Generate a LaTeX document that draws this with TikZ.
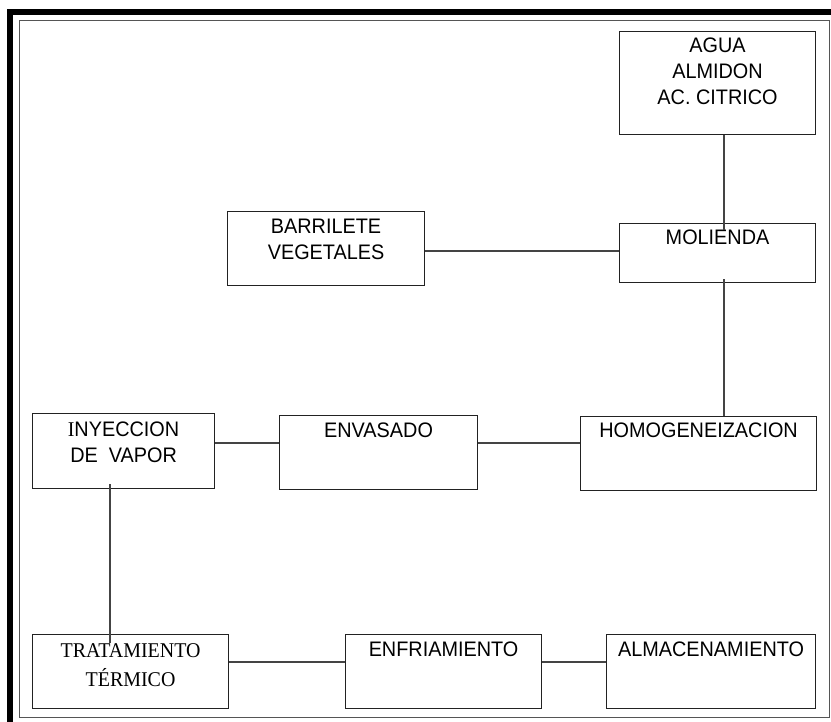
\documentclass[tikz,border=0pt]{standalone}
\usepackage{fontspec}
\setmainfont{Liberation Sans}[FakeStretch=0.945]
\newfontfamily\timesfont{Liberation Serif}[FakeStretch=0.95]
\usepackage{tikz}
\usetikzlibrary{positioning, calc}
\definecolor{boxline}{HTML}{222222}
\definecolor{linkline}{HTML}{444444}
\definecolor{framegray}{HTML}{555555}

\begin{document}
\begin{tikzpicture}[x=1pt, y=-1pt,
    stepbox/.style={rectangle, draw=boxline, line width=1.1pt, inner sep=0pt, anchor=north west},
    lbl/.style={inner sep=0pt, align=center, font=\fontsize{21}{26}\selectfont},
    link/.style={draw=linkline, line width=1.1pt}]
\useasboundingbox (0,0) rectangle (831,722);
% frame
\fill[black] (7,9) rectangle (831,15);
\fill[black] (7,9) rectangle (13,722);
\draw[framegray, line width=1pt] (19,21) rectangle (829,717);

% boxes
\node[stepbox, minimum width=196pt, minimum height=103pt] (agua) at (619,31) {};
\node[stepbox, minimum width=196pt, minimum height=59pt] (molienda) at (619,223) {};
\node[stepbox, minimum width=197pt, minimum height=74pt] (barrilete) at (227,211) {};
\node[stepbox, minimum width=236pt, minimum height=74pt] (homog) at (580,416) {};
\node[stepbox, minimum width=198pt, minimum height=74pt] (envasado) at (279,415) {};
\node[stepbox, minimum width=182pt, minimum height=75pt] (inyeccion) at (32,413) {};
\node[stepbox, minimum width=196pt, minimum height=74pt] (tratamiento) at (32,634) {};
\node[stepbox, minimum width=196pt, minimum height=74pt] (enfriamiento) at (345,634) {};
\node[stepbox, minimum width=209pt, minimum height=74pt] (almacen) at (606,634) {};

% texts
\node[lbl, below=7pt of agua.north] (aguaTxt) {AGUA\\ALMIDON\\AC. CITRICO};
\node[lbl, below=7pt of molienda.north] (moliendaTxt) {MOLIENDA};
\node[lbl, below=8pt of barrilete.north] (barrileteTxt) {BARRILETE\\VEGETALES};
\node[lbl, below=7pt of homog.north] (homogTxt) {HOMOGENEIZACION};
\node[lbl, below=8pt of envasado.north] (envasadoTxt) {ENVASADO};
\node[lbl, below=9pt of inyeccion.north] (inyeccionTxt) {{\timesfont I}NYECCION\\DE\ \ VAPOR};
\node[lbl, below=9pt of tratamiento.north, font=\timesfont\fontsize{21}{29}\selectfont] (tratamientoTxt) {TRATAMIENTO\\TÉRMICO};
\node[lbl, below=8pt of enfriamiento.north] (enfriamientoTxt) {ENFRIAMIENTO};
\node[lbl, below=8pt of almacen.north] (almacenTxt) {ALMACENAMIENTO};

% connector levels
\coordinate (spine) at (724,0);
\coordinate (spineL) at (110,0);
\coordinate (row1) at (0,251);
\coordinate (row2) at (0,443);
\coordinate (row3) at (0,662);

% connectors
\draw[link, shorten >=-7pt] (agua.south -| spine) -- (molienda.north -| spine);
\draw[link, shorten <=-4pt] (molienda.south -| spine) -- (homog.north -| spine);
\draw[link] (barrilete.east |- row1) -- (molienda.west |- row1);
\draw[link] (homog.west |- row2) -- (envasado.east |- row2);
\draw[link] (envasado.west |- row2) -- (inyeccion.east |- row2);
\draw[link, shorten <=-5pt, shorten >=-9pt] (inyeccion.south -| spineL) -- (tratamiento.north -| spineL);
\draw[link] (tratamiento.east |- row3) -- (enfriamiento.west |- row3);
\draw[link] (enfriamiento.east |- row3) -- (almacen.west |- row3);
\end{tikzpicture}
\end{document}
